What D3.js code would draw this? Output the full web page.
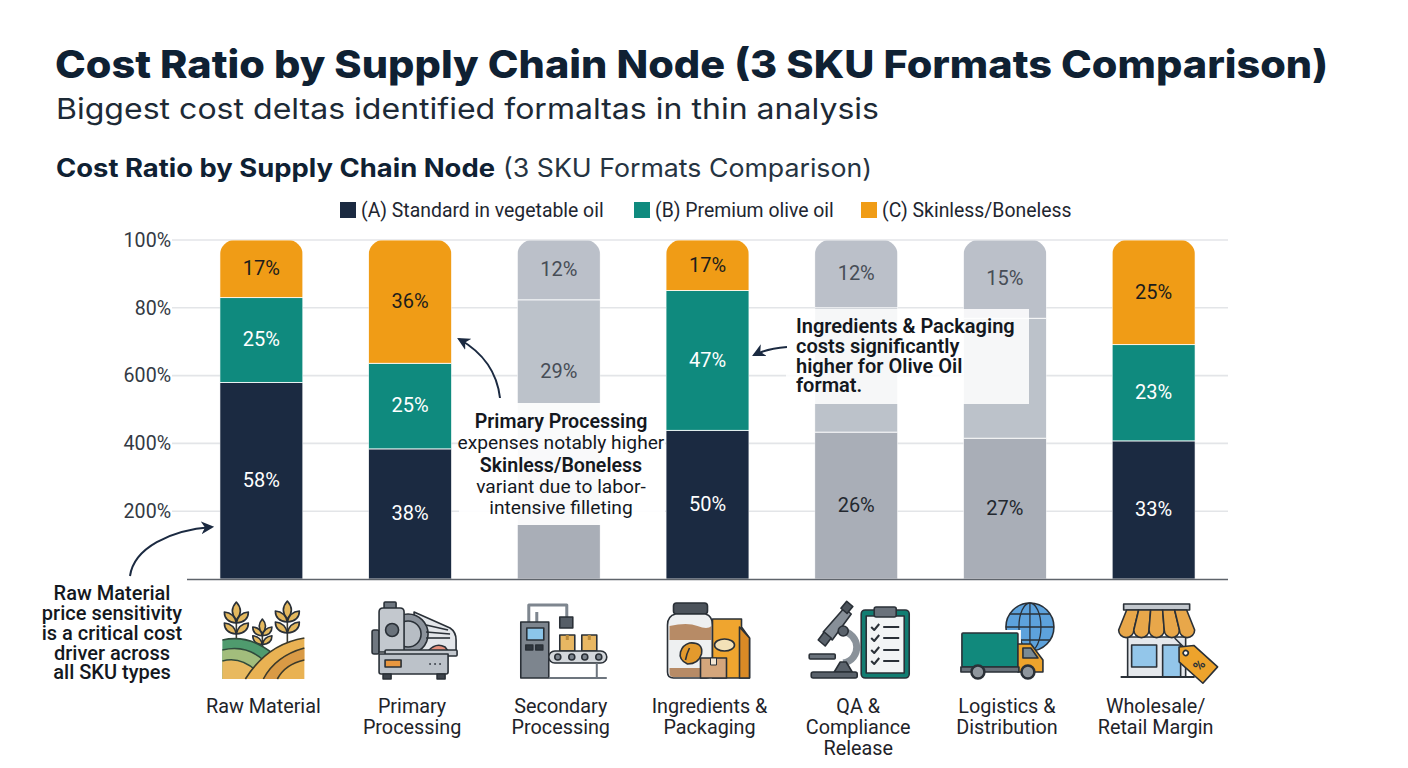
<!DOCTYPE html>
<html>
<head>
<meta charset="utf-8">
<script src="https://cdn.jsdelivr.net/npm/d3@7"></script>
<style>
  html, body { margin: 0; background: #fff; }
  svg { display: block; }
  text { font-family: Roboto, "Liberation Sans", sans-serif; }
</style>
</head>
<body>
<svg id="chart" width="1408" height="768"></svg>
<script>
// Supply chain nodes, bottom-to-top segment values, axis labels
const nodes = ["Raw Material", "Primary Processing", "Secondary Processing", "Ingredients & Packaging",
  "QA & Compliance Release", "Logistics & Distribution", "Wholesale/Retail Margin"];
const nodeLines = [["Raw Material"], ["Primary", "Processing"], ["Secondary", "Processing"], ["Ingredients &", "Packaging"],
  ["QA &", "Compliance", "Release"], ["Logistics &", "Distribution"], ["Wholesale/", "Retail Margin"]];
const standard = [58, 38, 27, 50, 26, 27, 33];
const premium = [25, 25, 29, 47, 22, 23, 23];
const skinless = [17, 36, 12, 17, 12, 15, 25];
// Segments with no printed value in the chart
const unlabelled = { "Secondary Processing": "standard", "QA & Compliance Release": "premium", "Logistics & Distribution": "premium" };
const mutedNodes = ["Secondary Processing", "QA & Compliance Release", "Logistics & Distribution"];
const seriesKeys = ["standard", "premium", "skinless"];
const legendLabels = ["(A) Standard in vegetable oil", "(B) Premium olive oil", "(C) Skinless/Boneless"];
const tickValues = [0.2, 0.4, 0.6, 0.8, 1];
const tickLabels = ["200%", "400%", "600%", "80%", "100%"];

const colors = { standard: "#1b2a41", premium: "#0f8a7e", skinless: "#f09c16" };
const muted = { standard: "#a9aeb7", premium: "#bcc2ca", skinless: "#bbc0c9" };
const ink = "#0f2133";

const svg = d3.select("#chart");

// Headings
svg.append("text").attr("x", 55).attr("y", 78).attr("font-size", 38.5).attr("font-weight", 800)
  .style("font-family", "Inter, sans-serif").attr("fill", ink)
  .attr("textLength", 1273).attr("lengthAdjust", "spacingAndGlyphs")
  .text("Cost Ratio by Supply Chain Node (3 SKU Formats Comparison)");
svg.append("text").attr("x", 56).attr("y", 119).attr("font-size", 29).attr("font-weight", 400)
  .style("font-family", "Inter, sans-serif").attr("fill", "#1d2a36")
  .attr("textLength", 823).attr("lengthAdjust", "spacingAndGlyphs")
  .text("Biggest cost deltas identified formaltas in thin analysis");
svg.append("text").attr("x", 56).attr("y", 177).attr("font-size", 25).attr("font-weight", 700)
  .style("font-family", "Inter, sans-serif").attr("fill", ink)
  .attr("textLength", 439).attr("lengthAdjust", "spacingAndGlyphs")
  .text("Cost Ratio by Supply Chain Node");
svg.append("text").attr("x", 503).attr("y", 177).attr("font-size", 25).attr("font-weight", 400)
  .style("font-family", "Inter, sans-serif").attr("fill", "#263442")
  .attr("textLength", 369).attr("lengthAdjust", "spacingAndGlyphs")
  .text("(3 SKU Formats Comparison)");

// Legend
const legendX = [340, 634, 861];
const legend = svg.append("g").selectAll("g").data(seriesKeys).join("g")
  .attr("transform", (d, i) => `translate(${legendX[i]},202)`);
legend.append("rect").attr("width", 16).attr("height", 16).attr("fill", d => colors[d]);
legend.append("text").attr("x", 21).attr("y", 15).attr("font-size", 19.4).attr("fill", "#1e2630")
  .text((d, i) => legendLabels[i]);

// Scales
const x = d3.scaleBand().domain(nodes).range([187, 1228]).paddingInner(0.442).paddingOuter(0.221);
const y = d3.scaleLinear().domain([0, 1]).range([579, 240]);

// Gridlines and value axis
const yAxis = d3.axisLeft(y).tickValues(tickValues)
  .tickFormat(d => tickLabels[tickValues.indexOf(d)]).tickSize(0).tickPadding(16);
const yG = svg.append("g").attr("transform", "translate(187,0)").call(yAxis);
yG.select(".domain").remove();
yG.selectAll("text").attr("font-size", 19.6).attr("fill", "#333a44").style("font-family", "Roboto, sans-serif");
svg.append("g").selectAll("line").data(tickValues).join("line")
  .attr("x1", 172).attr("x2", 1228).attr("y1", d => y(d)).attr("y2", d => y(d))
  .attr("stroke", "#e3e5e8").attr("stroke-width", 1.6);

// Stacked bars, each rounded along its top edge
const table = nodes.map((n, i) => ({ node: n, standard: standard[i], premium: premium[i], skinless: skinless[i] }));
const stacked = d3.stack().keys(seriesKeys).offset(d3.stackOffsetExpand)(table);
const radius = 15;
const defs = svg.append("defs");
nodes.forEach((n, i) => {
  defs.append("clipPath").attr("id", "bar-" + i).append("rect")
    .attr("x", x(n)).attr("y", y(1)).attr("width", x.bandwidth())
    .attr("height", y(0) - y(1) + radius).attr("rx", radius);
});
const segments = s => s.map(d => ({ key: s.key, node: d.data.node, y0: d[0], y1: d[1], value: d.data[s.key] }));
const layers = svg.append("g").selectAll("g").data(stacked).join("g");
layers.selectAll("rect").data(segments)
  .join("rect")
  .attr("clip-path", d => `url(#bar-${nodes.indexOf(d.node)})`)
  .attr("x", d => x(d.node)).attr("width", x.bandwidth())
  .attr("y", d => y(d.y1)).attr("height", d => y(d.y0) - y(d.y1))
  .attr("fill", d => mutedNodes.includes(d.node) ? muted[d.key] : colors[d.key])
  .attr("stroke", "#fff").attr("stroke-width", 0.8);
layers.selectAll("text").data(s => segments(s).filter(d => unlabelled[d.node] !== d.key))
  .join("text")
  .attr("x", d => x(d.node) + x.bandwidth() / 2).attr("y", d => y((d.y0 + d.y1) / 2) + 1)
  .attr("text-anchor", "middle").attr("dominant-baseline", "middle").attr("font-size", 20)
  .attr("fill", d => mutedNodes.includes(d.node) ? (d.key === "standard" ? "#23282f" : "#474d56")
    : (d.key === "skinless" ? "#1c1c1c" : "#fff"))
  .text(d => d.value + "%");

// Baseline
svg.append("line").attr("x1", 187).attr("x2", 1228).attr("y1", 579.5).attr("y2", 579.5)
  .attr("stroke", "#5f646b").attr("stroke-width", 1.6);

// Callout panels
svg.append("rect").attr("x", 459).attr("y", 403).attr("width", 206).attr("height", 122).attr("fill", "#fff").attr("opacity", 0.93);
svg.append("rect").attr("x", 786).attr("y", 309).attr("width", 243).attr("height", 95).attr("fill", "#fff").attr("opacity", 0.86);

function note(cx, anchor, lines) {
  const g = svg.append("g");
  lines.forEach(l => g.append("text").attr("x", cx).attr("y", l[0]).attr("text-anchor", anchor)
    .attr("font-size", l[2]).attr("font-weight", l[1]).attr("fill", "#14181e").text(l[3]));
}
note(561, "middle", [[428, 600, 19.6, "Primary Processing"], [449, 400, 19.2, "expenses notably higher"],
  [472, 600, 19.6, "Skinless/Boneless"], [493, 400, 19.2, "variant due to labor-"], [514, 400, 19.2, "intensive filleting"]]);
note(796, "start", [[333, 600, 20, "Ingredients & Packaging"], [353, 600, 20, "costs significantly"],
  [373, 600, 20, "higher for Olive Oil"], [392, 600, 20, "format."]]);
note(112, "middle", [[600, 500, 20, "Raw Material"], [620, 500, 20, "price sensitivity"],
  [640, 500, 20, "is a critical cost"], [660, 500, 20, "driver across"], [679, 500, 20, "all SKU types"]]);

// Callout arrows
defs.append("marker").attr("id", "head").attr("viewBox", "0 0 12 12").attr("refX", 10).attr("refY", 6)
  .attr("markerWidth", 13).attr("markerHeight", 13).attr("markerUnits", "userSpaceOnUse").attr("orient", "auto")
  .append("path").attr("d", "M0,0L12,6L0,12L3.5,6Z").attr("fill", "#1b2a41");
[["M500,398C497,372 482,352 459,339"], ["M787,347C775,348 764,350 754,355"], ["M130,576C134,548 170,530 212,527"]]
  .forEach(d => svg.append("path").attr("d", d[0]).attr("fill", "none").attr("stroke", "#1b2a41")
    .attr("stroke-width", 2).attr("marker-end", "url(#head)"));

// Node names
const names = svg.append("g").selectAll("text").data(nodes).join("text")
  .attr("text-anchor", "middle").attr("font-size", 19.8).attr("fill", "#1e2329");
names.selectAll("tspan").data((d, i) => nodeLines[i].map(t => ({ t, n: d }))).join("tspan")
  .attr("x", d => x(d.n) + x.bandwidth() / 2 + 2)
  .attr("y", (d, j) => 713 + j * 21).text(d => d.t);

// Pictograms above each node name, drawn around the bar centre
const line = "#2a3037";
function shape(g, tag, attrs) {
  const el = g.append(tag).attr("stroke", line).attr("stroke-width", 1.6).attr("stroke-linejoin", "round");
  Object.entries(attrs).forEach(([k, v]) => el.attr(k, v));
  return el;
}
function iconGroup(i, dx = 0) {
  return svg.append("g").attr("transform", `translate(${x(nodes[i]) + x.bandwidth() / 2 + dx},0)`);
}
function wheat(g, cx, top, s) {
  shape(g, "line", { x1: cx, x2: cx, y1: top + 8 * s, y2: top + 42 * s, stroke: "#3a3a30" });
  shape(g, "path", { d: `M${cx},${top}q${8 * s},${9 * s} 0,${18 * s}q${-8 * s},${-9 * s} 0,${-18 * s}Z`, fill: "#e4b85e" });
  [9, 20].forEach(dy => {
    const yy = top + dy * s;
    shape(g, "path", { d: `M${cx},${yy + 12 * s}q${2 * s},${-10 * s} ${12 * s},${-11 * s}q${0},${10 * s} ${-12 * s},${11 * s}Z`, fill: "#e4b85e" });
    shape(g, "path", { d: `M${cx},${yy + 12 * s}q${-2 * s},${-10 * s} ${-12 * s},${-11 * s}q${0},${10 * s} ${12 * s},${11 * s}Z`, fill: "#e4b85e" });
  });
}

// Raw material: fields and wheat
(function () {
  const g = iconGroup(0);
  wheat(g, -25, 602, 1);
  wheat(g, 1, 619, 0.8);
  wheat(g, 26, 601, 1);
  g.append("path").attr("d", "M-39,640Q-12,634 12,654L-4,679L-39,679Z").attr("fill", "#4f9b6e");
  g.append("path").attr("d", "M-39,650Q-14,644 4,662L-6,679L-39,679Z").attr("fill", "#a2bd7c");
  g.append("path").attr("d", "M-39,661Q-20,656 -4,672L-8,679L-39,679Z").attr("fill", "#e8b95f");
  ["M-39,640Q-12,634 12,654", "M-39,650Q-14,644 4,662", "M-39,661Q-20,656 -4,672"].forEach(d =>
    shape(g, "path", { d, fill: "none", stroke: "#2f4a3c" }));
  g.append("path").attr("d", "M-16,679Q6,644 43,638L43,679Z").attr("fill", "#e9b253");
  g.append("path").attr("d", "M2,679Q14,656 43,648L43,660Q24,664 16,679Z").attr("fill", "#d99a45");
  ["M-16,679Q6,644 43,638", "M2,679Q14,656 43,648", "M16,679Q24,664 43,660"].forEach(d =>
    shape(g, "path", { d, fill: "none", stroke: "#3c3a2a" }));
})();

// Primary processing: meat slicer
(function () {
  const g = iconGroup(1);
  shape(g, "rect", { x: -38, y: 630, width: 7, height: 24, rx: 2, fill: "#6f7780" });
  shape(g, "rect", { x: -26, y: 602, width: 12, height: 8, rx: 1, fill: "#6f7780" });
  shape(g, "path", { d: "M4,612L40,628Q46,632 46,640L46,652L4,652Z", fill: "#e3e6ea" });
  shape(g, "circle", { cx: -2, cy: 634, r: 20, fill: "#8b929b" });
  shape(g, "circle", { cx: -2, cy: 634, r: 13, fill: "#b7bdc4" });
  shape(g, "path", { d: "M-31,612Q-31,608 -27,608L-10,608Q-6,608 -6,612L-6,652L-31,652Z", fill: "#c3c8ce" });
  shape(g, "circle", { cx: -18, cy: 630, r: 6.5, fill: "#6a727b" });
  ["M16,625L38,630", "M16,632L40,634", "M16,638L40,638"].forEach(d => shape(g, "path", { d, fill: "none" }));
  shape(g, "path", { d: "M18,651Q26,642 35,647L38,651Z", fill: "#e6907c" });
  shape(g, "rect", { x: -25, y: 650, width: 72, height: 6, rx: 1, fill: "#c3c8ce" });
  shape(g, "path", { d: "M-31,654L38,654L38,672Q38,674 36,674L-29,674Q-31,674 -31,672Z", fill: "#bcc2c9" });
  shape(g, "rect", { x: -25, y: 660, width: 16, height: 7, fill: "#e9973f" });
  shape(g, "rect", { x: -27, y: 674, width: 8, height: 5, fill: "#3d434b" });
  shape(g, "rect", { x: 27, y: 674, width: 8, height: 5, fill: "#3d434b" });
  [20, 25, 30].forEach(cx => g.append("circle").attr("cx", cx).attr("cy", 664).attr("r", 1).attr("fill", "#3d434b"));
})();

// Secondary processing: packing line
(function () {
  const g = iconGroup(2);
  shape(g, "path", { d: "M-30,622L-30,605L8,605L8,617M-22,622L-22,612", fill: "none", "stroke-width": 3, stroke: "#7e868f" });
  shape(g, "rect", { x: 1, y: 617, width: 13, height: 11, fill: "#565e67" });
  shape(g, "rect", { x: -38, y: 622, width: 28, height: 56, fill: "#7d858e" });
  shape(g, "rect", { x: -32, y: 628, width: 17, height: 12, fill: "#8cc6ea" });
  shape(g, "rect", { x: -33, y: 645, width: 7, height: 5, fill: "#2f363e" });
  shape(g, "rect", { x: -23, y: 645, width: 7, height: 5, fill: "#2f363e" });
  [[1, 635], [23, 635]].forEach(([bx, by]) => {
    shape(g, "rect", { x: bx, y: by, width: 15, height: 16, fill: "#e8b763" });
    shape(g, "rect", { x: bx + 6, y: by, width: 3, height: 5, fill: "#b98939", stroke: "none" });
  });
  shape(g, "rect", { x: -10, y: 651, width: 58, height: 12, rx: 6, fill: "#d3d7db" });
  [-1, 13, 26, 40].forEach(cx => shape(g, "circle", { cx, cy: 657, r: 3, fill: "#7d858e" }));
  shape(g, "path", { d: "M-10,678L48,678M38,663L38,678", fill: "none", stroke: "#6d757e", "stroke-width": 2 });
})();

// Ingredients & packaging: jar, carton, box
(function () {
  const g = iconGroup(3);
  shape(g, "rect", { x: -34, y: 603, width: 34, height: 11, rx: 3, fill: "#4c535b" });
  shape(g, "path", { d: "M-40,625Q-40,616 -32,614L-2,614Q5,616 5,625L5,672Q5,678 -1,678L-34,678Q-40,678 -40,672Z", fill: "#eef0f1" });
  g.append("path").attr("d", "M-38,626Q-20,622 -10,626T4,626L4,640L-38,640Z").attr("fill", "#b78b66");
  g.append("path").attr("d", "M-38,668L4,668L4,673Q4,677 0,677L-34,677Q-38,677 -38,673Z").attr("fill", "#b78b66");
  shape(g, "path", { d: "M-18,643Q-4,642 -6,654Q-9,664 -20,664Q-29,660 -27,652Q-25,645 -18,643Z", fill: "#e39a2d" });
  shape(g, "path", { d: "M-18,648Q-21,654 -22,660", fill: "none" });
  shape(g, "path", { d: "M5,627L5,619L34,619L34,627L42,638L42,678L5,678Z", fill: "#efa52f" });
  shape(g, "path", { d: "M32,627L42,638L42,678L32,678Z", fill: "#d98a26" });
  shape(g, "ellipse", { cx: 17, cy: 645, rx: 10, ry: 6, fill: "#f3e1b8" });
  shape(g, "rect", { x: -7, y: 658, width: 26, height: 20, fill: "#d4a67c" });
  shape(g, "rect", { x: 3, y: 658, width: 6, height: 7, fill: "#f2e6d4", "stroke-width": 1 });
})();

// QA: microscope and checklist
(function () {
  const g = iconGroup(4);
  shape(g, "path", { d: "M-16,630C6,634 5,660 -13,663", fill: "none", "stroke-width": 7, stroke: "#8a929a" });
  shape(g, "path", { d: "M-33,632L-12,608L-5,614L-24,640Z", fill: "#878f98" });
  shape(g, "path", { d: "M-38,640L-32,632L-25,638L-31,646Z", fill: "#5a626b" });
  shape(g, "rect", { x: -13, y: 603, width: 8, height: 9, fill: "#4c535b", transform: "rotate(40 -9 607)" });
  shape(g, "circle", { cx: -13, cy: 631, r: 5, fill: "#5a626b" });
  shape(g, "rect", { x: -47, y: 654, width: 26, height: 5, rx: 1, fill: "#6a727b" });
  shape(g, "path", { d: "M-22,672L-16,662L-10,662L-4,672Z", fill: "#5a626b" });
  shape(g, "rect", { x: -45, y: 672, width: 46, height: 6, rx: 2, fill: "#5a626b" });
  shape(g, "rect", { x: 5, y: 610, width: 48, height: 68, rx: 4, fill: "#127d72" });
  shape(g, "rect", { x: 10, y: 616, width: 38, height: 57, fill: "#f2f4f5" });
  shape(g, "rect", { x: 18, y: 607, width: 22, height: 10, rx: 2, fill: "#6a727b" });
  [627, 638, 650, 661].forEach(cy => {
    shape(g, "path", { d: `M15,${cy}l3,3l5,-6`, fill: "none", "stroke-width": 2 });
    shape(g, "line", { x1: 27, x2: 43, y1: cy, y2: cy, "stroke-width": 2 });
  });
})();

// Logistics: truck and globe
(function () {
  const g = iconGroup(5);
  shape(g, "circle", { cx: 25, cy: 627, r: 24, fill: "#5da2dc" });
  ["M1,627L49,627", "M25,603L25,651", "M5,614L45,614", "M5,640L45,640"].forEach(d => shape(g, "path", { d, fill: "none", "stroke-width": 1.3 }));
  shape(g, "ellipse", { cx: 25, cy: 627, rx: 11, ry: 24, fill: "none", "stroke-width": 1.3 });
  g.append("rect").attr("x", -46).attr("y", 630).attr("width", 62).attr("height", 40).attr("fill", "#fff");
  shape(g, "rect", { x: -43, y: 633, width: 56, height: 34, rx: 1, fill: "#11897c" });
  shape(g, "path", { d: "M13,644L26,644L38,660L38,672L13,672Z", fill: "#eda32c" });
  shape(g, "path", { d: "M18,648L26,648L33,658L18,658Z", fill: "#7a8a94" });
  shape(g, "rect", { x: -44, y: 667, width: 58, height: 5, fill: "#6a727b" });
  shape(g, "circle", { cx: -27, cy: 672, r: 6.5, fill: "#8f969d", "stroke-width": 2.5 });
  shape(g, "circle", { cx: 23, cy: 672, r: 6.5, fill: "#8f969d", "stroke-width": 2.5 });
})();

// Retail: shopfront and price tag
(function () {
  const g = iconGroup(6, 3);
  shape(g, "rect", { x: -29, y: 637, width: 58, height: 40, fill: "#e5e8ec" });
  shape(g, "rect", { x: -25, y: 645, width: 25, height: 22, fill: "#93c6ea" });
  shape(g, "rect", { x: 6, y: 645, width: 18, height: 32, fill: "#93c6ea" });
  shape(g, "rect", { x: -33, y: 604, width: 66, height: 6, fill: "#c3c8ce" });
  d3.range(5).forEach(k => shape(g, "path", {
    d: `M${-38 + k * 15.2},630a7.6,7.6 0 0 0 15.2,0L${-30 + (k + 1) * 12},610L${-30 + k * 12},610Z`, fill: "#e8a74a" }));
  shape(g, "line", { x1: -36, x2: 38, y1: 677, y2: 677, "stroke-width": 2 });
  shape(g, "line", { x1: 18, x2: 27, y1: 638, y2: 647 });
  const tag = g.append("g").attr("transform", "translate(38,661) rotate(42)");
  shape(tag, "path", { d: "M-21,0L-11,-11L21,-11L21,11L-11,11Z", fill: "#eda32c" });
  shape(tag, "circle", { cx: -12, cy: 0, r: 2.5, fill: "#fff" });
  tag.append("text").attr("x", 6).attr("y", 5).attr("text-anchor", "middle").attr("font-size", 14).attr("font-weight", 700)
    .attr("fill", "#2a3037").attr("transform", "rotate(-90 6 0)").text("%");
})();
</script>
</body>
</html>
